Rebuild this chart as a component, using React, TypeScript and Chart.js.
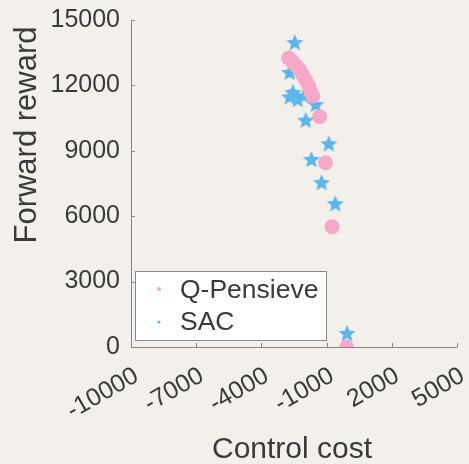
import React, { useEffect, useRef } from 'react';
import { Chart, registerables } from 'chart.js';

Chart.register(...registerables);

const seriesNames = ['Q-Pensieve', 'SAC'];
const xTitle = 'Control cost';
const yTitle = 'Forward reward';
const xTicks = [-10000, -7000, -4000, -1000, 2000, 5000];
const yTicks = [0, 3000, 6000, 9000, 12000, 15000];

const qpCost = [-2740, -2560, -2380, -2240, -2100, -1960, -1820, -1730, -1640, -1320, -1050, -750, -80];
const qpReward = [13260, 13070, 12890, 12710, 12480, 12250, 11970, 11700, 11510, 10560, 8450, 5520, 0];

const sacCost = [-2460, -2700, -2700, -2550, -2330, -2050, -1500, -1960, -900, -1700, -1230, -600, -60];
const sacReward = [13940, 12570, 11450, 11650, 11330, 11500, 11100, 10380, 9300, 8580, 7520, 6550, 600];

const PINK = '#f7a7c7';
const BLUE = '#5db6ea';
const BG = '#f3f0ec';
const AXIS = '#858585';
const TEXT = '#3a3a3a';
const FONT = '"Liberation Sans", Arial, Helvetica, sans-serif';

function makeStar(color: string, outer: number, inner: number): HTMLCanvasElement {
  const size = Math.ceil(outer * 2 + 2);
  const c = document.createElement('canvas');
  c.width = size;
  c.height = size;
  const ctx = c.getContext('2d')!;
  const cx = size / 2;
  const cy = size / 2;
  ctx.beginPath();
  for (let i = 0; i < 10; i++) {
    const r = i % 2 === 0 ? outer : inner;
    const a = -Math.PI / 2 + (i * Math.PI) / 5;
    const px = cx + r * Math.cos(a);
    const py = cy + r * Math.sin(a);
    if (i === 0) ctx.moveTo(px, py);
    else ctx.lineTo(px, py);
  }
  ctx.closePath();
  ctx.fillStyle = color;
  ctx.fill();
  return c;
}

export default function App() {
  const ref = useRef<HTMLCanvasElement | null>(null);

  useEffect(() => {
    document.body.style.margin = '0';
    document.body.style.background = BG;
    const canvas = ref.current!;
    const star = makeStar(BLUE, 9, 4);

    const decor = {
      id: 'decor',
      beforeDraw(chart: any) {
        const { ctx } = chart;
        ctx.save();
        ctx.fillStyle = BG;
        ctx.fillRect(0, 0, chart.width, chart.height);
        ctx.restore();
      },
      beforeDatasetsDraw(chart: any) {
        const { ctx, chartArea, scales } = chart;
        const xs = scales.x;
        const ys = scales.y;
        ctx.save();
        ctx.strokeStyle = AXIS;
        ctx.lineWidth = 1;
        ctx.beginPath();
        ctx.moveTo(chartArea.left + 0.5, chartArea.top);
        ctx.lineTo(chartArea.left + 0.5, chartArea.bottom + 0.5);
        ctx.lineTo(chartArea.right, chartArea.bottom + 0.5);
        ctx.stroke();
        ctx.beginPath();
        for (const v of xTicks) {
          const px = Math.round(xs.getPixelForValue(v)) + 0.5;
          ctx.moveTo(px, chartArea.bottom);
          ctx.lineTo(px, chartArea.bottom - 4);
        }
        for (const v of yTicks) {
          const py = Math.round(ys.getPixelForValue(v)) + 0.5;
          ctx.moveTo(chartArea.left, py);
          ctx.lineTo(chartArea.left + 4, py);
        }
        ctx.stroke();

        // rotated x tick labels
        ctx.fillStyle = TEXT;
        ctx.font = `25px ${FONT}`;
        ctx.textAlign = 'right';
        ctx.textBaseline = 'alphabetic';
        for (const v of xTicks) {
          const px = xs.getPixelForValue(v);
          ctx.save();
          ctx.translate(px + 9, chartArea.bottom + 33);
          ctx.rotate(-Math.PI / 6);
          ctx.fillText(String(v), 0, 0);
          ctx.restore();
        }
        ctx.restore();
      },
      afterDraw(chart: any) {
        const { ctx, chartArea } = chart;
        ctx.save();
        // axis titles
        ctx.fillStyle = TEXT;
        ctx.font = `30px ${FONT}`;
        ctx.textAlign = 'center';
        ctx.textBaseline = 'alphabetic';
        ctx.fillText(xTitle, 292, 458);
        ctx.save();
        ctx.font = `31px ${FONT}`;
        ctx.translate(36, 135);
        ctx.rotate(-Math.PI / 2);
        ctx.fillText(yTitle, 0, 0);
        ctx.restore();

        // legend
        const lx = 135.5, ly = 271.5, lw = 191, lh = 69;
        ctx.fillStyle = '#ffffff';
        ctx.fillRect(lx, ly, lw, lh);
        ctx.strokeStyle = '#8a8a8a';
        ctx.lineWidth = 1;
        ctx.strokeRect(lx, ly, lw, lh);
        ctx.font = `26.5px ${FONT}`;
        ctx.textAlign = 'left';
        ctx.textBaseline = 'alphabetic';
        ctx.fillStyle = TEXT;
        ctx.fillText(seriesNames[0], 180, 298);
        ctx.fillText(seriesNames[1], 180, 330);
        ctx.fillStyle = PINK;
        ctx.beginPath();
        ctx.arc(159, 289, 2, 0, Math.PI * 2);
        ctx.fill();
        ctx.fillStyle = BLUE;
        ctx.beginPath();
        ctx.arc(159, 322, 1.6, 0, Math.PI * 2);
        ctx.fill();
        ctx.restore();
      },
    };

    const chart = new Chart(canvas, {
      type: 'scatter',
      data: {
        datasets: [
          {
            label: seriesNames[0],
            data: qpCost.map((x, i) => ({ x, y: qpReward[i] })),
            pointStyle: 'circle',
            pointRadius: 7.5,
            pointHoverRadius: 7.5,
            backgroundColor: PINK,
            borderColor: PINK,
            borderWidth: 0,
          },
          {
            label: seriesNames[1],
            data: sacCost.map((x, i) => ({ x, y: sacReward[i] })),
            pointStyle: star as any,
            pointRadius: 9,
            backgroundColor: BLUE,
            borderColor: BLUE,
          },
        ],
      },
      options: {
        animation: false,
        responsive: false,
        maintainAspectRatio: false,
        events: [],
        layout: { padding: { left: 0, right: 12, top: 20, bottom: 0 } },
        plugins: {
          legend: { display: false },
          tooltip: { enabled: false },
          title: { display: false },
        },
        scales: {
          x: {
            type: 'linear',
            min: -10000,
            max: 5000,
            grid: { display: false },
            border: { display: false },
            afterBuildTicks: (s: any) => {
              s.ticks = xTicks.map((v) => ({ value: v }));
            },
            afterFit: (s: any) => {
              s.height = 117;
              s.paddingLeft = 0;
              s.paddingRight = 0;
            },
            ticks: { display: false },
          },
          y: {
            type: 'linear',
            min: 0,
            max: 15000,
            grid: { display: false },
            border: { display: false },
            afterBuildTicks: (s: any) => {
              s.ticks = yTicks.map((v) => ({ value: v }));
            },
            afterFit: (s: any) => {
              s.width = 131;
              s.paddingTop = 0;
              s.paddingBottom = 0;
            },
            ticks: {
              padding: 3,
              color: TEXT,
              font: { size: 25, family: FONT },
              callback: (v: any) => String(v),
            },
          },
        },
      },
      plugins: [decor],
    });
    return () => chart.destroy();
  }, []);

  return (
    <div style={{ position: 'fixed', left: 0, top: 0, width: 469, height: 464 }}>
      <canvas ref={ref} width={469} height={464} style={{ width: 469, height: 464, display: 'block' }} />
    </div>
  );
}
